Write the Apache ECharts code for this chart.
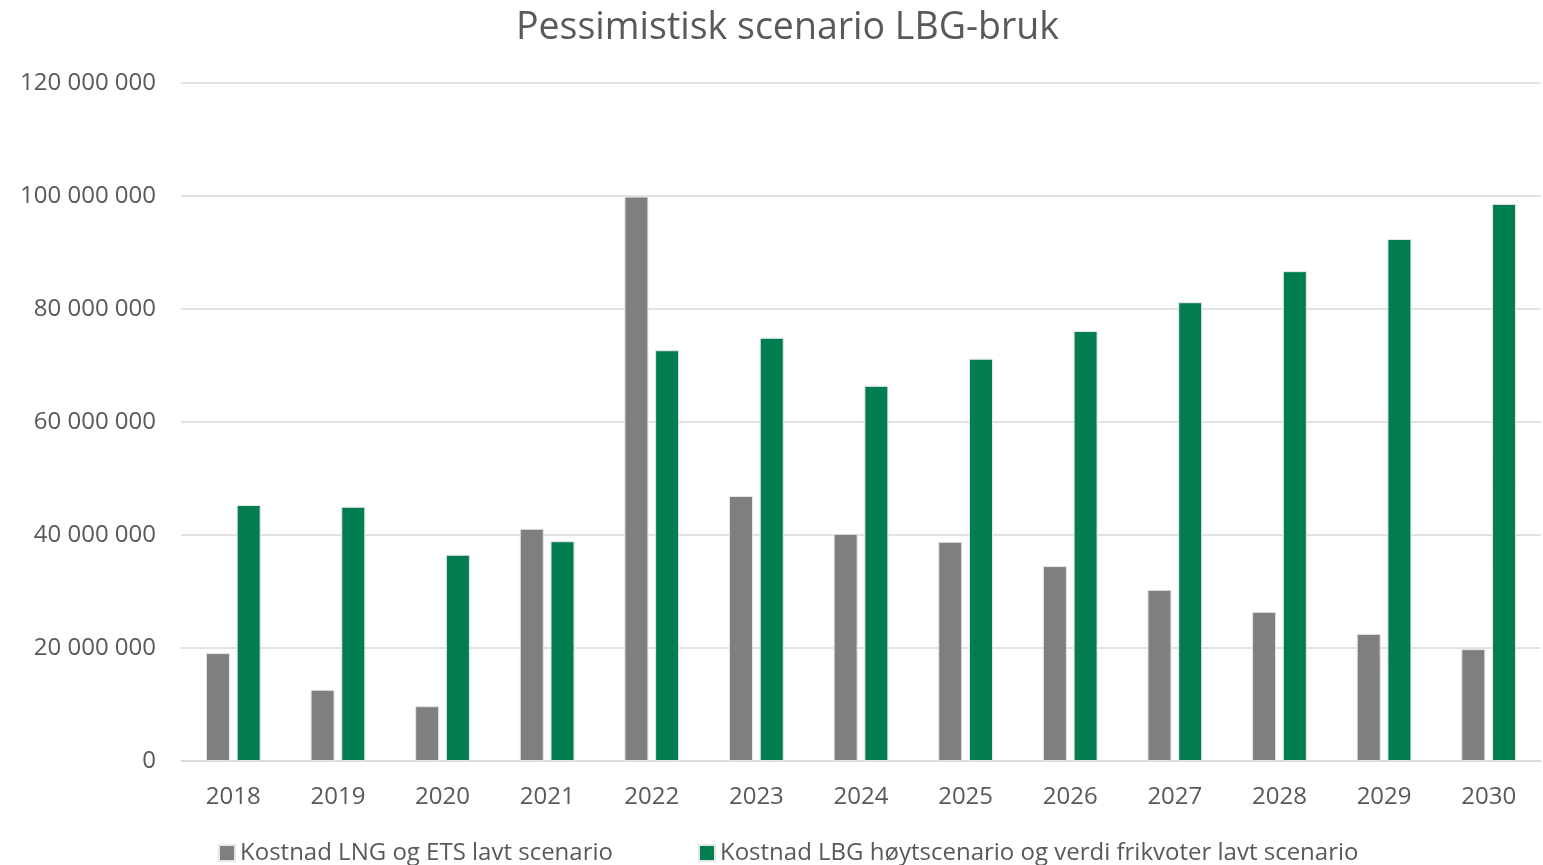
<!DOCTYPE html>
<html><head><meta charset="utf-8">
<script src="https://cdn.jsdelivr.net/npm/echarts@6/dist/echarts.min.js"></script>
<style>html,body{margin:0;padding:0;background:#fff}#c{width:1543px;height:865px}</style>
</head><body><div id="c"></div>
<script>
const categories = ['2018','2019','2020','2021','2022','2023','2024','2025','2026','2027','2028','2029','2030'];
const lngEts = [19100000,12600000,9700000,41100000,99900000,46900000,40200000,38800000,34500000,30300000,26400000,22500000,19800000];
const lbgFri = [45300000,45000000,36500000,38900000,72700000,74900000,66400000,71200000,76100000,81200000,86700000,92400000,98600000];
const seriesNames = ['Kostnad LNG og ETS lavt scenario','Kostnad LBG høytscenario og verdi frikvoter lavt scenario'];
const chart = echarts.init(document.getElementById('c'));
const fmt = v => String(v).replace(/\B(?=(\d{3})+(?!\d))/g, ' ');
chart.setOption({
  animation:false,
  textStyle:{fontFamily:'"Open Sans"'},
  title:{text:'Pessimistisk scenario LBG-bruk',left:511,top:4,textStyle:{fontFamily:'"Open Sans"',fontSize:37.5,fontWeight:'normal',color:'#595959'}},
  legend:{bottom:-5,left:213,itemGap:85,itemWidth:16,itemHeight:16,icon:'rect',textStyle:{fontFamily:'"Open Sans"',fontSize:24,color:'#595959'},data:seriesNames},
  grid:{left:181,right:2,top:83,bottom:104,containLabel:false},
  xAxis:{type:'category',data:categories,axisTick:{show:false},axisLine:{lineStyle:{color:'#d9d9d9',width:1.5}},
    axisLabel:{fontFamily:'"Open Sans"',fontSize:24,color:'#595959',margin:24}},
  yAxis:{type:'value',min:0,max:120000000,interval:20000000,axisLine:{show:false},axisTick:{show:false},
    splitLine:{lineStyle:{color:'#d9d9d9',width:1.5}},
    axisLabel:{fontFamily:'"Open Sans"',fontSize:24,color:'#595959',margin:25,formatter:fmt}},
  series:[
    {name:seriesNames[0],type:'bar',data:lngEts,barWidth:24,barGap:'28%',itemStyle:{color:'#7f7f7f',borderColor:'#e6e6e6',borderWidth:1}},
    {name:seriesNames[1],type:'bar',data:lbgFri,barWidth:24,itemStyle:{color:'#027d50',borderColor:'#e6e6e6',borderWidth:1}}
  ]
});
</script></body></html>
